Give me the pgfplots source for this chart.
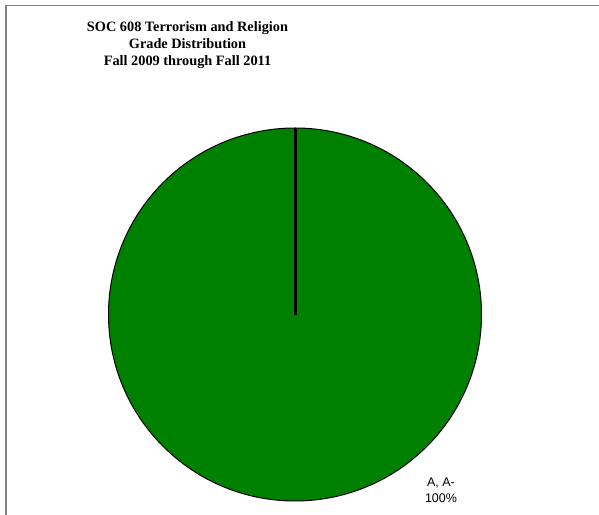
\documentclass[border=0pt]{standalone}
\usepackage{pgfplots}
\usepackage{pgfplotstable}
\pgfplotsset{compat=1.18}
\usepackage{fontspec}
\setmainfont{Liberation Serif}
\newfontfamily\labelfont{Liberation Sans}
\definecolor{piegreen}{RGB}{0,128,0}
\definecolor{framegray}{RGB}{128,128,128}
\pgfplotstableread[col sep=comma]{
grade,share
{A, A-},100
}\gradetable
\begin{document}
\begin{tikzpicture}
\pgfplotstablegetelem{0}{share}\of\gradetable
\let\shareA\pgfplotsretval
\begin{axis}[
  at={(0,0)}, anchor=south west,
  width=599bp, height=515bp, scale only axis,
  xmin=0, xmax=599, ymin=0, ymax=515,
  hide axis, clip=false,
]
% outer frame (cropped)
\draw[framegray, line width=1.8bp] (axis cs:6,0) -- (axis cs:6,509.5) -- (axis cs:599,509.5);
% pie slice: A, A- = 100%
\pgfmathsetmacro{\endang}{90-3.6*\shareA}
\filldraw[fill=piegreen, draw=black, line width=1bp]
  (axis cs:295,200.5) -- (axis cs:295,387) arc[start angle=90, end angle=\endang, radius=186.5] -- cycle;
\draw[black, line width=3bp] (axis cs:295.5,200) -- (axis cs:295.5,387);
% title
\node[anchor=base, font=\fontsize{14.3bp}{17bp}\selectfont\bfseries] at (axis cs:187.5,483) {SOC 608 Terrorism and Religion};
\node[anchor=base, font=\fontsize{14.3bp}{17bp}\selectfont\bfseries] at (axis cs:187.5,466) {Grade Distribution};
\node[anchor=base, font=\fontsize{14.3bp}{17bp}\selectfont\bfseries] at (axis cs:187.5,449) {Fall 2009 through Fall 2011};
% slice label
\node[anchor=base, font=\labelfont\fontsize{12.5bp}{15bp}\selectfont] at (axis cs:441,28.3) {A, A-};
\node[anchor=base, font=\labelfont\fontsize{12.5bp}{15bp}\selectfont] at (axis cs:441,13) {\shareA\%};
\end{axis}
\pgfresetboundingbox
\useasboundingbox (0,0) rectangle (599bp,515bp);
\end{tikzpicture}
\end{document}
